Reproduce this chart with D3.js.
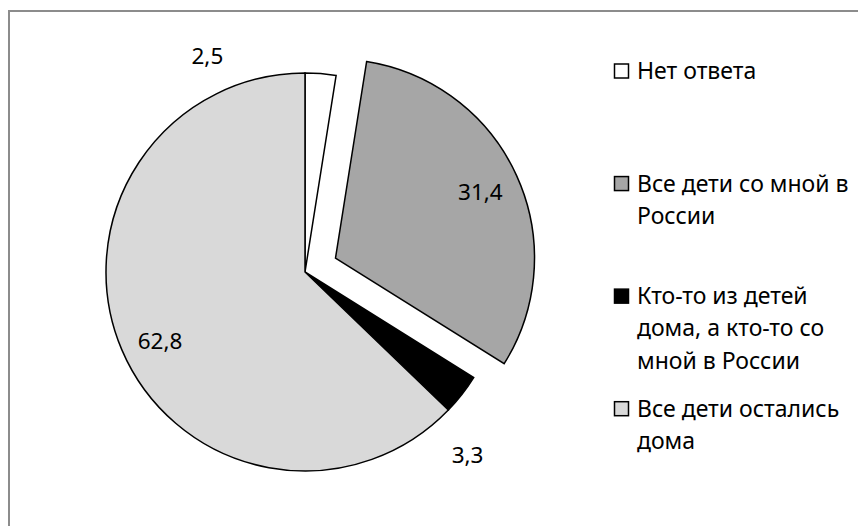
<!DOCTYPE html>
<html>
<head>
<meta charset="utf-8">
<script src="https://cdn.jsdelivr.net/npm/d3@7"></script>
<style>
  body { margin: 0; background: #fff; }
  text { font-family: "Noto Sans", "Open Sans", sans-serif; fill: #000; }
</style>
</head>
<body>
<div id="chart"></div>
<script>
// Data
const categories = ["Нет ответа", "Все дети со мной в России", "Кто-то из детей дома, а кто-то со мной в России", "Все дети остались дома"];
const values = [2.5, 31.4, 3.3, 62.8];
const valueLabels = ["2,5", "31,4", "3,3", "62,8"];
const legendLines = [
    ["Нет ответа"],
    ["Все дети со мной в", "России"],
    ["Кто-то из детей", "дома, а кто-то со", "мной в России"],
    ["Все дети остались", "дома"]
];
const colors = ["#ffffff", "#a6a6a6", "#000000", "#d9d9d9"];
const exploded = [false, true, false, false];

// Layout
const width = 865, height = 526;
const cx = 305, cy = 272, radius = 199, explode = 33.5;
// label placement: radius factor and angle nudge (degrees) per slice
const labelPlace = [
    {r: 1.192, da: -28.8},
    {r: 0.80, da: 0},
    {r: 1.23, da: 10.4},
    {r: 0.807, da: -2.4}
];

let svg = d3.select("#chart").append("svg")
    .attr("width", width)
    .attr("height", height);

// Chart area border (top and left visible)
svg.append("path")
    .attr("d", "M9,526 L9,11 L858,11")
    .attr("fill", "none")
    .attr("stroke", "#8c8c8c")
    .attr("stroke-width", 2);

let pie = d3.pie().sort(null).value(d => d)(values);
let arc = d3.arc().innerRadius(0).outerRadius(radius);

let g = svg.append("g").attr("transform", "translate(" + cx + "," + cy + ")");

function offset(d, i) {
    if (!exploded[i]) return [0, 0];
    let a = (d.startAngle + d.endAngle) / 2;
    return [explode * Math.sin(a), -explode * Math.cos(a)];
}

g.selectAll(".slice")
    .data(pie)
    .enter().append("path")
    .attr("class", "slice")
    .attr("d", arc)
    .attr("transform", (d, i) => { let o = offset(d, i); return "translate(" + o[0] + "," + o[1] + ")"; })
    .attr("fill", (d, i) => colors[i])
    .attr("stroke", "#000")
    .attr("stroke-width", 1.5)
    .attr("stroke-linejoin", "miter");

// Data labels
g.selectAll(".lbl")
    .data(pie)
    .enter().append("text")
    .attr("class", "lbl")
    .attr("text-anchor", "middle")
    .attr("dy", "0.36em")
    .style("font-size", "22.5px")
    .attr("x", (d, i) => {
        let a = (d.startAngle + d.endAngle) / 2 + labelPlace[i].da * Math.PI / 180;
        return offset(d, i)[0] + radius * labelPlace[i].r * Math.sin(a);
    })
    .attr("y", (d, i) => {
        let a = (d.startAngle + d.endAngle) / 2 + labelPlace[i].da * Math.PI / 180;
        return offset(d, i)[1] - radius * labelPlace[i].r * Math.cos(a);
    })
    .text((d, i) => valueLabels[i]);

// Legend
let ly = d3.scaleLinear().domain([0, categories.length - 1]).range([79, 416.7]);
let lineH = 32.3;
let legend = svg.append("g");
let item = legend.selectAll(".item")
    .data(categories)
    .enter().append("g")
    .attr("class", "item")
    .attr("transform", (d, i) => "translate(0," + ly(i) + ")");

item.append("rect")
    .attr("x", 614.5)
    .attr("y", -15)
    .attr("width", 14)
    .attr("height", 14)
    .attr("fill", (d, i) => colors[i])
    .attr("stroke", "#000")
    .attr("stroke-width", 1.5);

item.append("text")
    .attr("x", 637)
    .style("font-size", "23px")
    .selectAll("tspan")
    .data((d, i) => legendLines[i])
    .enter().append("tspan")
    .attr("x", 637)
    .attr("y", (d, j) => j * lineH)
    .text(d => d);
</script>
</body>
</html>
